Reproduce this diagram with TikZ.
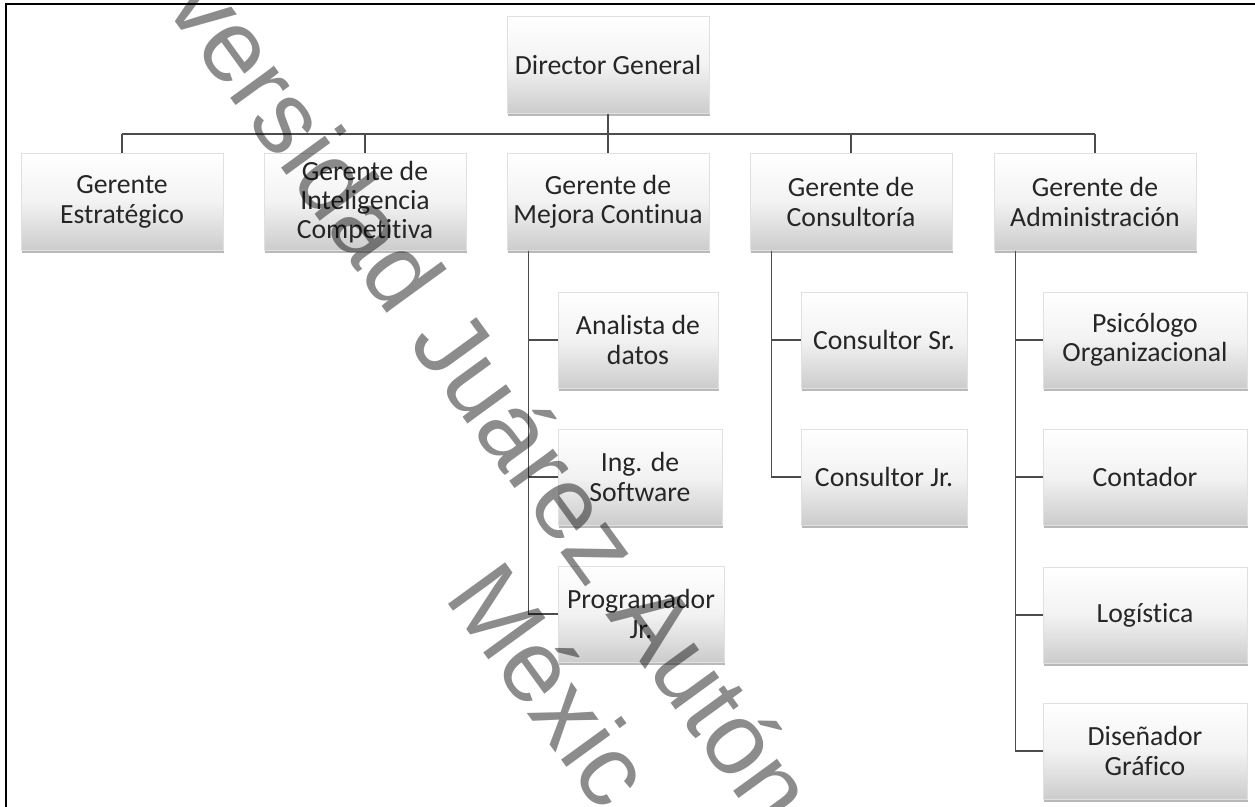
\documentclass[tikz,border=0pt]{standalone}
\usepackage{fontspec}
\setmainfont{Carlito}[Ligatures=NoCommon]
\newfontfamily\marcafont{Liberation Sans}
\usetikzlibrary{shadows}

\tikzset{
  cargo/.style={rectangle, draw=black!12, top color=white, bottom color=black!20,
    middle color=white!95!black, minimum width=151.5pt, minimum height=72.5pt,
    align=center, text=black!85, inner sep=1pt,
    font=\fontsize{20.8}{22}\selectfont,
    drop shadow={shadow xshift=0.8pt, shadow yshift=-2pt, opacity=0.55}},
  subcargo/.style={cargo, minimum width=#1, minimum height=72pt},
  conector/.style={draw=black!70, line width=1pt},
  marca/.style={text=black, text opacity=0.45, inner sep=0pt, anchor=base west,
    rotate=-54, font=\marcafont\fontsize{77}{90}\selectfont}
}

\begin{document}
\begin{tikzpicture}[x=0.75pt, y=-0.75pt]  % one unit = one pixel, y downwards
    % Page and frame
    \useasboundingbox (0,0) rectangle (1255,806);
    \fill[white] (0,0) rectangle (1255,806);
    \draw[line width=2.2pt, black] (6,4) rectangle (1264,816);

    % Director and managers
    \node[cargo] (dir) at (608,65) {Director General};
    \node[cargo] (estr) at (122,202) {Gerente\\Estratégico};
    \node[cargo] (intel) at (365,202) {Gerente de\\Inteligencia\\Competitiva};
    \node[cargo] (mejora) at (608,202) {Gerente de\\Mejora Continua};
    \node[cargo] (consul) at (851,202) {Gerente de\\Consultoría};
    \node[cargo] (admin) at (1095,202) {Gerente de\\Administración};

    % Staff under each manager
    \node[subcargo=120pt] (analista) at (638,340) {Analista de\\datos};
    \node[subcargo=123pt] (software) at (640,477) {Ing. de\\Software};
    \node[subcargo=124.5pt] (progr) at (641,614) {Programador\\Jr.};
    \node[subcargo=124.5pt] (csr) at (884,340) {Consultor Sr.};
    \node[subcargo=124.5pt] (cjr) at (884,477) {Consultor Jr.};
    \node[subcargo=153pt] (psico) at (1145,340) {Psicólogo\\Organizacional};
    \node[subcargo=153pt] (contador) at (1145,477) {Contador};
    \node[subcargo=153pt] (logistica) at (1145,615) {Logística};
    \node[subcargo=153pt] (disenador) at (1145,751) {Diseñador\\Gráfico};

    % Bus from the director to the managers
    \coordinate (bus) at (608,134);
    \draw[conector] (dir.south) -- (bus);
    \draw[conector] (bus -| estr.north) -- (bus -| admin.north);
    \foreach \n in {estr,intel,mejora,consul,admin}
        \draw[conector] (bus -| \n.north) -- (\n.north);

    % Side lines down to the staff
    \foreach \p/\h in {mejora/analista, mejora/software, mejora/progr,
                       consul/csr, consul/cjr,
                       admin/psico, admin/contador, admin/logistica, admin/disenador}
        \draw[conector] ([xshift=16.5pt]\p.south west) |- (\h.west);

    % Watermark
    \node[marca] (marca1) at (163,5) {versidad Juárez Autón};
    \node[marca] (marca2) at (443,597) {Méxic};
\end{tikzpicture}
\end{document}
